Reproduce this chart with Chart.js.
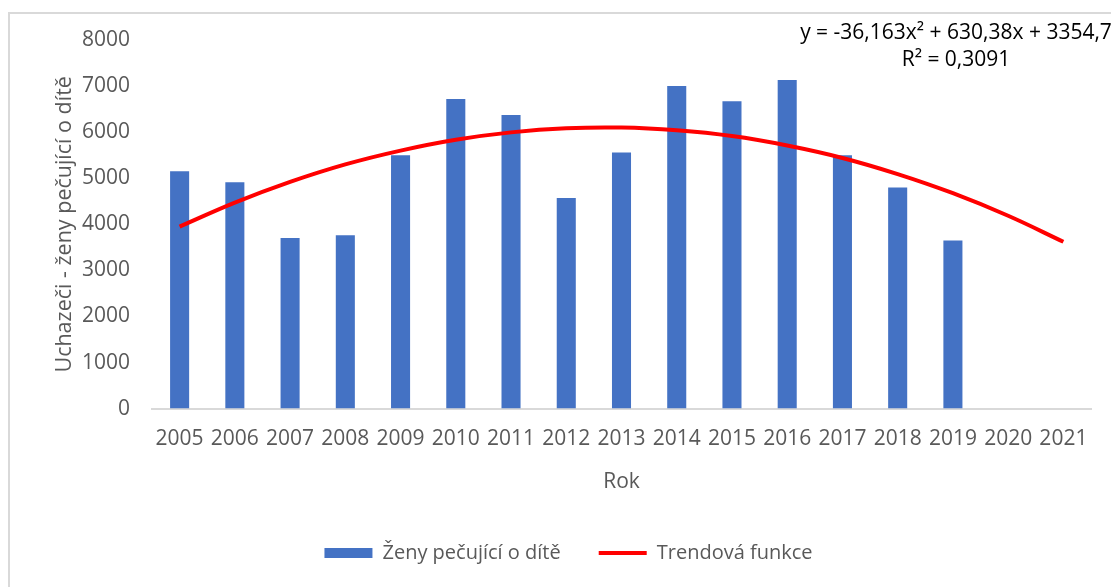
<!DOCTYPE html>
<html>
<head>
<meta charset="utf-8">
<script src="https://cdn.jsdelivr.net/npm/chart.js@4"></script>
<style>
  html, body { margin: 0; padding: 0; background: #fff; }
  #wrap { width: 1111px; height: 587px; }
</style>
</head>
<body>
<div id="wrap"><canvas id="chart"></canvas></div>
<script>
// Roky a hodnoty
const roky = ['2005', '2006', '2007', '2008', '2009', '2010', '2011', '2012', '2013',
              '2014', '2015', '2016', '2017', '2018', '2019', '2020', '2021'];
const zenyPecujici = [5150, 4910, 3700, 3760, 5500, 6720, 6370, 4570, 5560,
                      7000, 6670, 7130, 5500, 4800, 3650, null, null];
// trendová křivka (polynom 2. stupně) odečtená v každém roce
const trend = [3950, 4470, 4920, 5300, 5600, 5835, 5995, 6085, 6100,
               6040, 5915, 5710, 5440, 5090, 4675, 4185, 3620];
const rovnice = ['y = -36,163x\u00b2 + 630,38x + 3354,7', 'R\u00b2 = 0,3091'];

const sedy = '#595959';

// ramecek grafu a rovnice trendu
const extras = {
  id: 'extras',
  beforeDraw(chart) {
    const ctx = chart.ctx;
    ctx.save();
    ctx.strokeStyle = '#d9d9d9';
    ctx.lineWidth = 2;
    ctx.beginPath();
    ctx.moveTo(9, 600);
    ctx.lineTo(9, 13);
    ctx.lineTo(1120, 13);
    ctx.stroke();
    ctx.restore();
  },
  afterDraw(chart) {
    const ctx = chart.ctx;
    ctx.save();
    ctx.fillStyle = '#000';
    ctx.font = '21px "Open Sans"';
    ctx.textAlign = 'center';
    ctx.textBaseline = 'middle';
    ctx.fillText(rovnice[0], 956, 33);
    ctx.fillText(rovnice[1], 956, 60);
    ctx.restore();
  }
};

new Chart(document.getElementById('chart'), {
  type: 'bar',
  data: {
    labels: roky,
    datasets: [
      {
        label: 'Ženy pečující o dítě',
        data: zenyPecujici,
        backgroundColor: '#4472c4',
        barPercentage: 0.345,
        categoryPercentage: 1,
        order: 2
      },
      {
        type: 'line',
        label: 'Trendová funkce',
        data: trend,
        borderColor: '#ff0000',
        backgroundColor: '#ff0000',
        borderWidth: 4,
        pointRadius: 0,
        tension: 0.4,
        order: 1
      }
    ]
  },
  options: {
    responsive: true,
    maintainAspectRatio: false,
    animation: false,
    layout: { padding: { top: 40, left: 46, right: 20, bottom: 14 } },
    plugins: {
      tooltip: { enabled: false },
      legend: {
        position: 'bottom',
        labels: {
          color: sedy,
          font: { family: 'Open Sans', size: 20 },
          usePointStyle: true,
          pointStyleWidth: 48,
          boxHeight: 10,
          padding: 38,
          sort: (a, b) => a.datasetIndex - b.datasetIndex,
          generateLabels(chart) {
            const items = Chart.defaults.plugins.legend.labels.generateLabels(chart);
            items.forEach(it => {
              if (it.datasetIndex === 0) {
                it.pointStyle = 'rect';
                it.lineWidth = 0;
              } else {
                it.pointStyle = 'line';
                it.lineWidth = 4;
              }
            });
            return items;
          }
        }
      }
    },
    scales: {
      x: {
        grid: { display: false },
        border: { color: '#d9d9d9', width: 2 },
        ticks: {
          color: sedy,
          font: { family: 'Open Sans', size: 21 },
          maxRotation: 0,
          autoSkip: false,
          padding: 10
        },
        title: {
          display: true,
          text: 'Rok',
          color: sedy,
          font: { family: 'Open Sans', size: 21 },
          padding: { top: 6, bottom: 10 }
        },
        afterFit(scale) { scale.height += 2; }
      },
      y: {
        min: 0,
        max: 8000,
        ticks: {
          stepSize: 1000,
          color: sedy,
          font: { family: 'Open Sans', size: 21 },
          padding: 22,
          callback: v => String(v)
        },
        grid: { display: false, drawTicks: false },
        border: { display: false },
        title: {
          display: true,
          text: 'Uchazeči - ženy pečující o dítě',
          color: sedy,
          font: { family: 'Open Sans', size: 21.5 },
          padding: { top: 6, bottom: 0 }
        },
        afterFit(scale) { scale.width = 106; }
      }
    }
  },
  plugins: [extras]
});
</script>
</body>
</html>
